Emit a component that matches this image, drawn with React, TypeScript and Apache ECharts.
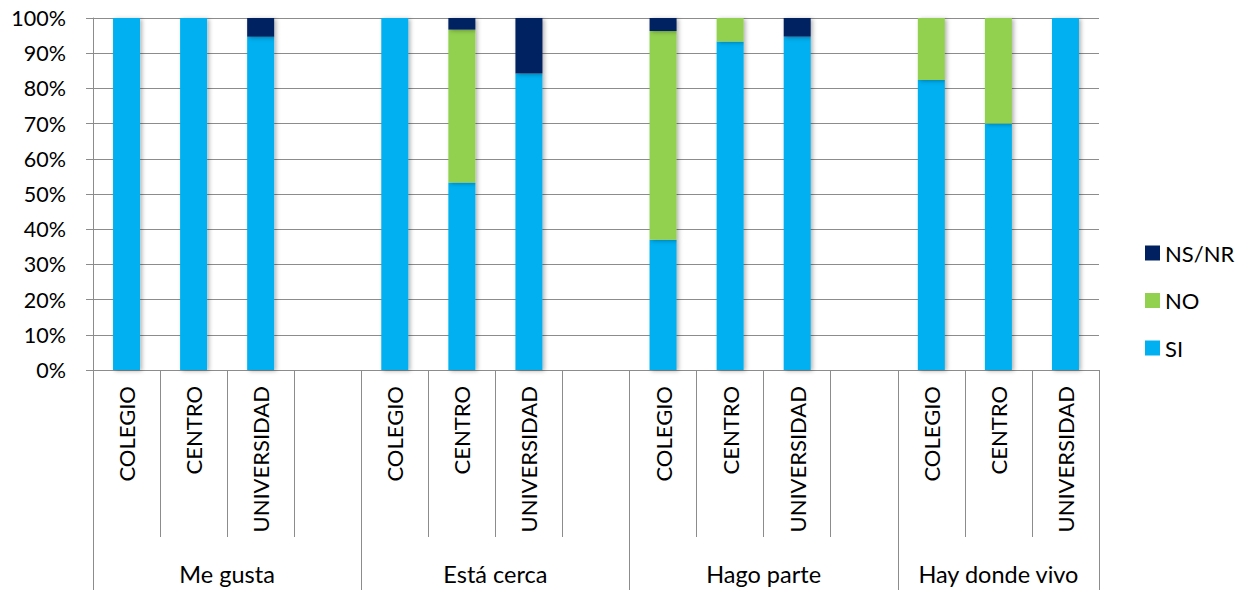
import React, { useEffect, useRef } from "react";
import * as echarts from "echarts";

const categories = [
  "COLEGIO", "CENTRO", "UNIVERSIDAD", "",
  "COLEGIO", "CENTRO", "UNIVERSIDAD", "",
  "COLEGIO", "CENTRO", "UNIVERSIDAD", "",
  "COLEGIO", "CENTRO", "UNIVERSIDAD",
];
const groupNames = ["Me gusta", "Está cerca", "Hago parte", "Hay donde vivo"];
const groupSizes = [4, 4, 4, 3];

const siValues = [100, 100, 94.7, null, 100, 53.3, 84.2, null, 37.0, 93.3, 94.7, null, 82.4, 70.0, 100];
const noValues = [0, 0, 0, null, 0, 43.4, 0, null, 59.3, 6.7, 0, null, 17.6, 30.0, 0];
const nsnrValues = [0, 0, 5.3, null, 0, 3.3, 15.8, null, 3.7, 0, 5.3, null, 0, 0, 0];

const yTicks = [0, 10, 20, 30, 40, 50, 60, 70, 80, 90, 100];

const FONT = "Lato, 'Liberation Sans', sans-serif";
const GRID_COLOR = "#8c8c8c";

export default function App() {
  const ref = useRef<HTMLDivElement>(null);

  useEffect(() => {
    document.body.style.margin = "0";
    if (!ref.current) return;
    const chart = echarts.init(ref.current, null, { renderer: "svg" });

    const groupLabelAt: Record<number, { name: string; shift: boolean }> = {};
    let start = 0;
    groupSizes.forEach((size, gi) => {
      const mid = start + Math.floor((size - 1) / 2);
      groupLabelAt[mid] = { name: groupNames[gi], shift: size % 2 === 0 };
      start += size;
    });
    const groupTickStarts: number[] = [];
    let s2 = 0;
    groupSizes.forEach((size) => {
      groupTickStarts.push(s2);
      s2 += size;
    });

    const barShadow = {
      shadowBlur: 4,
      shadowColor: "rgba(0,0,0,0.3)",
      shadowOffsetX: 2,
      shadowOffsetY: 1,
    };

    chart.setOption({
      animation: false,
      grid: { left: 93, right: 143, top: 18, bottom: 220, containLabel: false },
      legend: {
        orient: "vertical",
        left: 1140,
        top: 237,
        data: ["NS/NR", "NO", "SI"],
        icon: "rect",
        itemWidth: 15,
        itemHeight: 15,
        itemGap: 25.5,
        textStyle: { fontFamily: FONT, fontSize: 22, color: "#000", lineHeight: 22 },
      },
      xAxis: [
        {
          type: "category",
          data: categories,
          position: "bottom",
          axisLine: { show: true, lineStyle: { color: GRID_COLOR, width: 1 } },
          axisTick: { show: true, interval: 0, length: 167, lineStyle: { color: GRID_COLOR, width: 1 } },
          axisLabel: {
            interval: 0,
            rotate: 90,
            margin: 16,
            fontFamily: FONT,
            fontSize: 22,
            color: "#000",
          },
          splitLine: { show: false },
        },
        {
          type: "category",
          data: categories.map((_, i) => (groupLabelAt[i] ? groupLabelAt[i].name : "")),
          position: "bottom",
          axisLine: { show: false },
          axisTick: {
            show: true,
            interval: (index: number) => groupTickStarts.includes(index),
            length: 220,
            lineStyle: { color: GRID_COLOR, width: 1 },
          },
          axisLabel: {
            interval: 0,
            margin: 192,
            fontFamily: FONT,
            fontSize: 23.5,
            color: "#000",
            formatter: (value: string, index: number) => {
              if (!value) return "";
              const info = groupLabelAt[index];
              return info && info.shift ? "{g|" + value + "}" : "{n|" + value + "}";
            },
            rich: {
              g: { padding: [0, 0, 0, 67], fontFamily: FONT, fontSize: 23.5, color: "#000" },
              n: { fontFamily: FONT, fontSize: 23.5, color: "#000" },
            },
          },
          splitLine: { show: false },
        },
      ],
      yAxis: {
        type: "value",
        min: yTicks[0],
        max: yTicks[yTicks.length - 1],
        interval: 10,
        axisLine: { show: true, lineStyle: { color: GRID_COLOR, width: 1 } },
        axisTick: { show: true, length: 7, lineStyle: { color: GRID_COLOR, width: 1 } },
        axisLabel: {
          margin: 27,
          fontFamily: FONT,
          fontSize: 21.5,
          color: "#000",
          formatter: (v: number) => v + "%",
        },
        splitLine: { show: true, lineStyle: { color: GRID_COLOR, width: 1 } },
      },
      series: [
        {
          name: "SI",
          type: "bar",
          stack: "total",
          barWidth: 27,
          data: siValues,
          itemStyle: { color: "#00B0F0", ...barShadow },
        },
        {
          name: "NO",
          type: "bar",
          stack: "total",
          barWidth: 27,
          data: noValues,
          itemStyle: { color: "#92D050", ...barShadow },
        },
        {
          name: "NS/NR",
          type: "bar",
          stack: "total",
          barWidth: 27,
          data: nsnrValues,
          itemStyle: { color: "#002060", ...barShadow },
        },
      ],
    });

    return () => chart.dispose();
  }, []);

  return <div ref={ref} style={{ width: 1242, height: 590 }} />;
}
